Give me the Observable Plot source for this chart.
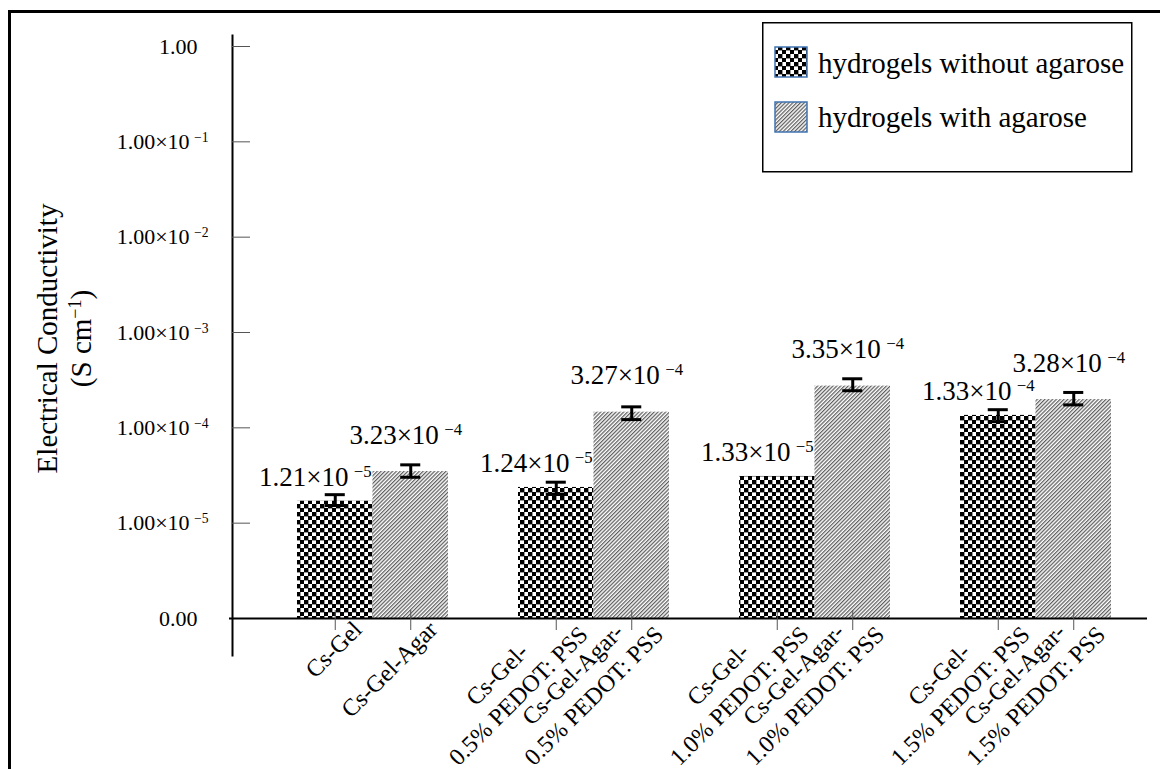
<!DOCTYPE html>
<html>
<head>
<meta charset="utf-8">
<script src="https://cdn.jsdelivr.net/npm/d3@7"></script>
<script src="https://cdn.jsdelivr.net/npm/@observablehq/plot@0.6"></script>
<style>
html, body { margin: 0; padding: 0; background: #fff; }
body { width: 1160px; height: 769px; position: relative; overflow: hidden; font-family: "Liberation Serif", "Times New Roman", serif; }
#frame { position: absolute; left: 8px; top: 10px; width: 1200px; height: 800px; border-top: 3px solid #000; border-left: 3px solid #000; box-sizing: border-box; }
#chart { position: absolute; left: 0; top: 0; }
#legend { position: absolute; left: 762px; top: 22px; }
</style>
</head>
<body>
<svg width="0" height="0" style="position:absolute">
  <defs>
    <pattern id="checker" patternUnits="userSpaceOnUse" width="8" height="8">
      <rect x="0" y="0" width="8" height="8" fill="#fff"/>
      <rect x="0" y="0" width="4.4" height="4.4" fill="#000"/>
      <rect x="4" y="4" width="4.4" height="4.4" fill="#000"/>
    </pattern>
    <pattern id="hatch" patternUnits="userSpaceOnUse" width="2.7" height="2.7" patternTransform="rotate(45)">
      <rect x="0" y="0" width="2.7" height="2.7" fill="#fff"/>
      <rect x="0" y="0" width="1.25" height="2.7" fill="#5e5e5e"/>
    </pattern>
  </defs>
</svg>
<div id="frame"></div>
<div id="chart"></div>
<svg id="legend" width="372" height="152"></svg>
<script>
// ---------------- data ----------------
const groups = ["Cs-Gel", "0.5% PEDOT: PSS", "1.0% PEDOT: PSS", "1.5% PEDOT: PSS"];
const seriesNames = ["hydrogels without agarose", "hydrogels with agarose"];
const withoutNames = ["Cs-Gel", "Cs-Gel-\n0.5% PEDOT: PSS", "Cs-Gel-\n1.0% PEDOT: PSS", "Cs-Gel-\n1.5% PEDOT: PSS"];
const withNames = ["Cs-Gel-Agar", "Cs-Gel-Agar-\n0.5% PEDOT: PSS", "Cs-Gel-Agar-\n1.0% PEDOT: PSS", "Cs-Gel-Agar-\n1.5% PEDOT: PSS"];
const withoutValues = [1.70e-5, 2.37e-5, 3.09e-5, 1.35e-4];
const withValues = [3.48e-5, 1.46e-4, 2.74e-4, 1.98e-4];
const withoutErrLow = [1.53e-5, 2.00e-5, null, 1.16e-4];
const withoutErrHigh = [1.99e-5, 2.69e-5, null, 1.55e-4];
const withErrLow = [3.03e-5, 1.22e-4, 2.45e-4, 1.74e-4];
const withErrHigh = [4.09e-5, 1.66e-4, 3.27e-4, 2.35e-4];
const withoutText = ["1.21×10\u2009⁻⁵", "1.24×10\u2009⁻⁵", "1.33×10\u2009⁻⁵", "1.33×10\u2009⁻⁴"];
const withText = ["3.23×10\u2009⁻⁴", "3.27×10\u2009⁻⁴", "3.35×10\u2009⁻⁴", "3.28×10\u2009⁻⁴"];
const yTicks = [1e-6, 1e-5, 1e-4, 1e-3, 1e-2, 1e-1, 1];
const yTickLabels = ["0.00", "1.00×10\u2009⁻⁵", "1.00×10\u2009⁻⁴", "1.00×10\u2009⁻³", "1.00×10\u2009⁻²", "1.00×10\u2009⁻¹", "1.00"];
const yTitle = "Electrical Conductivity\n(S cm⁻¹)";

// ---------------- tables ----------------
const withoutData = groups.map((g, i) => ({group: g, name: withoutNames[i], value: withoutValues[i], lo: withoutErrLow[i], hi: withoutErrHigh[i], text: withoutText[i]}));
const withData = groups.map((g, i) => ({group: g, name: withNames[i], value: withValues[i], lo: withErrLow[i], hi: withErrHigh[i], text: withText[i]}));
const tickLabel = new Map(yTicks.map((t, i) => [t, yTickLabels[i]]));
const plainTicks = yTicks.filter(t => !/[⁻]/.test(tickLabel.get(t)));
const powTicks = yTicks.filter(t => /[⁻]/.test(tickLabel.get(t)));

// ---------------- layout ----------------
const W = 1160, H = 769, ML = 232, MR = 13, MT = 35, MB = 114;
const pIn = 0.317, pOut = 0.2285, alignX = 0.644;
const step = (W - ML - MR) / (groups.length - pIn + 2 * pOut);
const bw = step * (1 - pIn);
const q = bw / 4;
const capHalf = 10;

const ctx = document.createElement("canvas").getContext("2d");
ctx.font = "24px 'Liberation Serif'";
const longest = s => Math.max(...s.split("\n").map(l => ctx.measureText(l).width));
const K = Math.SQRT1_2;

function xLabelMarks(data, side) {
  return data.map(d => {
    const w = longest(d.name);
    const n = d.name.split("\n").length;
    const s = w / 2 - 18;
    const t = 12 - 8 * (n - 1);
    return Plot.text([d], {
      x: "group", y: 1e-6, text: "name",
      rotate: -45, textAnchor: "middle", lineAnchor: "middle", lineHeight: 1.25,
      fontSize: 24, fill: "#000",
      dx: side * q + K * (t - s), dy: 10 + K * (s + t)
    });
  });
}

const errWithout = withoutData.filter(d => d.lo != null);
const errWith = withData.filter(d => d.lo != null);

const plot = Plot.plot({
  width: W, height: H,
  marginLeft: ML, marginRight: MR, marginTop: MT, marginBottom: MB,
  style: {fontFamily: "'Liberation Serif', 'Times New Roman', serif", fontSize: "22px", color: "#000", background: "transparent", overflow: "visible"},
  x: {domain: groups, paddingInner: pIn, paddingOuter: pOut, align: alignX, axis: null},
  y: {type: "log", domain: [1e-6, 1], range: [618, 46], axis: null},
  marks: [
    Plot.barY(withoutData, {x: "group", y1: 1e-6, y2: "value", insetLeft: 0, insetRight: bw / 2, fill: "url(#checker)"}),
    Plot.barY(withData, {x: "group", y1: 1e-6, y2: "value", insetLeft: bw / 2, insetRight: 0, fill: "url(#hatch)"}),
    // y axis
    Plot.frame({anchor: "left", stroke: "#000", strokeWidth: 2}),
    Plot.ruleY(yTicks, {insetRight: (W - ML - MR) - 18, stroke: "#555", strokeWidth: 1}),
    Plot.axisY(powTicks, {tickSize: 0, tickPadding: 24, tickFormat: d => tickLabel.get(d), fontSize: 22, label: null, fill: "#000"}),
    Plot.axisY(plainTicks, {tickSize: 0, tickPadding: 35, tickFormat: d => tickLabel.get(d), fontSize: 22, label: null, fill: "#000"}),
    // x axis line
    Plot.ruleY([1e-6], {stroke: "#000", strokeWidth: 2, insetLeft: -3}),
    Plot.ruleX(withoutData, {x: "group", y1: 1e-6, y2: 1e-6, dx: -q, insetTop: -8, insetBottom: -12, stroke: "#555"}),
    Plot.ruleX(withData, {x: "group", y1: 1e-6, y2: 1e-6, dx: q, insetTop: -8, insetBottom: -12, stroke: "#555"}),
    // error bars
    Plot.ruleX(errWithout, {x: "group", y1: "lo", y2: "hi", dx: -q, stroke: "#000", strokeWidth: 3}),
    Plot.tickY(errWithout, {x: "group", y: "lo", insetLeft: q - capHalf, insetRight: bw - q - capHalf, stroke: "#000", strokeWidth: 3}),
    Plot.tickY(errWithout, {x: "group", y: "hi", insetLeft: q - capHalf, insetRight: bw - q - capHalf, stroke: "#000", strokeWidth: 3}),
    Plot.ruleX(errWith, {x: "group", y1: "lo", y2: "hi", dx: q, stroke: "#000", strokeWidth: 3}),
    Plot.tickY(errWith, {x: "group", y: "lo", insetLeft: 3 * q - capHalf, insetRight: q - capHalf, stroke: "#000", strokeWidth: 3}),
    Plot.tickY(errWith, {x: "group", y: "hi", insetLeft: 3 * q - capHalf, insetRight: q - capHalf, stroke: "#000", strokeWidth: 3}),
    // data labels
    Plot.text(withoutData, {x: "group", y: "value", text: "text", dx: -q - 20, dy: -15, lineAnchor: "bottom", fontSize: 27, fill: "#000"}),
    Plot.text(withData, {x: "group", y: "value", text: "text", dx: q - 5, dy: -28, lineAnchor: "bottom", fontSize: 27, fill: "#000"}),
    // x category labels
    ...xLabelMarks(withoutData, -1),
    ...xLabelMarks(withData, 1),
    // y title
    Plot.text([yTitle], {frameAnchor: "left", text: d => d, rotate: -90, dx: -169, dy: -7, fontSize: 29, lineHeight: 1.17, lineAnchor: "middle", textAnchor: "middle", fill: "#000"})
  ]
});
document.getElementById("chart").appendChild(plot);

// ---------------- superscripts as real raised text ----------------
const ns = "http://www.w3.org/2000/svg";
const supMap = {"⁻": "−", "⁰": "0", "¹": "1", "²": "2", "³": "3", "⁴": "4", "⁵": "5", "⁶": "6", "⁷": "7", "⁸": "8", "⁹": "9"};
function supify(root) {
  const walker = document.createTreeWalker(root, NodeFilter.SHOW_TEXT);
  const nodes = [];
  while (walker.nextNode()) if (/[⁻⁰¹²³⁴-⁹]/.test(walker.currentNode.nodeValue)) nodes.push(walker.currentNode);
  for (const node of nodes) {
    const parts = node.nodeValue.split(/([⁻⁰¹²³⁴-⁹]+)/);
    const frag = document.createDocumentFragment();
    parts.forEach((p, i) => {
      if (!p) return;
      if (i % 2) {
        const t = document.createElementNS(ns, "tspan");
        t.setAttribute("baseline-shift", "super");
        t.setAttribute("font-size", "62%");
        t.textContent = [...p].map(c => supMap[c]).join("");
        frag.appendChild(t);
      } else frag.appendChild(document.createTextNode(p));
    });
    node.parentNode.replaceChild(frag, node);
  }
}
supify(plot);

// ---------------- legend ----------------
const lg = document.getElementById("legend");
function el(tag, attrs, text) {
  const e = document.createElementNS(ns, tag);
  for (const k in attrs) e.setAttribute(k, attrs[k]);
  if (text) e.textContent = text;
  lg.appendChild(e);
  return e;
}
el("rect", {x: 0.75, y: 0.75, width: 369, height: 149, fill: "#fff", stroke: "#000", "stroke-width": 1.5});
const fills = ["url(#checker)", "url(#hatch)"];
seriesNames.forEach((name, i) => {
  el("rect", {x: 13, y: 25 + i * 55, width: 32, height: 30, fill: fills[i], stroke: "#3f73b0", "stroke-width": 1.5});
  el("text", {x: 56, y: 51 + i * 54, "font-size": 29, "font-family": "'Liberation Serif', 'Times New Roman', serif", fill: "#000"}, name);
});
</script>
</body>
</html>
